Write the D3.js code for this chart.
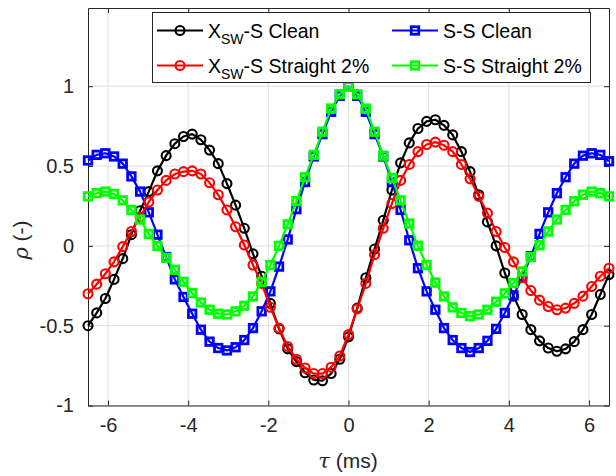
<!DOCTYPE html>
<html><head><meta charset="utf-8">
<script src="https://cdn.jsdelivr.net/npm/d3@7"></script>
<style>
html,body{margin:0;padding:0;background:#fff;}
svg{display:block;font-family:"Liberation Sans",Arial,Helvetica,sans-serif;}
</style></head>
<body><svg id="chart" width="616" height="476"></svg>
<script>
const tau = [-6.5,-6.283,-6.067,-5.85,-5.633,-5.417,-5.2,-4.983,-4.767,-4.55,-4.333,-4.117,-3.9,-3.683,-3.467,-3.25,-3.033,-2.817,-2.6,-2.383,-2.167,-1.95,-1.733,-1.517,-1.3,-1.083,-0.867,-0.65,-0.433,-0.217,0,0.217,0.433,0.65,0.867,1.083,1.3,1.517,1.733,1.95,2.167,2.383,2.6,2.817,3.033,3.25,3.467,3.683,3.9,4.117,4.333,4.55,4.767,4.983,5.2,5.417,5.633,5.85,6.067,6.283,6.5];
const xswClean = [-0.50,-0.42,-0.33,-0.21,-0.08,0.07,0.22,0.34,0.47,0.565,0.64,0.685,0.70,0.665,0.60,0.515,0.39,0.255,0.11,-0.05,-0.19,-0.36,-0.52,-0.645,-0.725,-0.795,-0.84,-0.845,-0.80,-0.71,-0.57,-0.39,-0.20,-0.02,0.16,0.35,0.52,0.645,0.735,0.78,0.79,0.755,0.695,0.59,0.465,0.32,0.15,0.0,-0.17,-0.315,-0.43,-0.525,-0.595,-0.64,-0.66,-0.645,-0.60,-0.525,-0.43,-0.305,-0.18];
const ssClean = [0.535,0.57,0.58,0.56,0.515,0.435,0.34,0.21,0.07,-0.07,-0.21,-0.32,-0.425,-0.525,-0.60,-0.64,-0.655,-0.635,-0.59,-0.515,-0.41,-0.285,-0.13,0.04,0.23,0.40,0.56,0.70,0.84,0.94,1.0,0.94,0.84,0.70,0.56,0.40,0.225,0.035,-0.14,-0.285,-0.40,-0.515,-0.59,-0.64,-0.665,-0.64,-0.595,-0.52,-0.42,-0.31,-0.20,-0.065,0.075,0.21,0.33,0.43,0.515,0.565,0.58,0.57,0.53];
const xswStraight = [-0.30,-0.24,-0.175,-0.10,-0.005,0.09,0.18,0.275,0.35,0.41,0.45,0.465,0.47,0.45,0.395,0.32,0.225,0.12,0.005,-0.12,-0.235,-0.385,-0.515,-0.63,-0.71,-0.765,-0.80,-0.80,-0.76,-0.69,-0.555,-0.395,-0.235,-0.055,0.11,0.265,0.41,0.51,0.59,0.635,0.65,0.63,0.59,0.51,0.42,0.31,0.205,0.09,-0.01,-0.10,-0.20,-0.28,-0.34,-0.38,-0.40,-0.39,-0.36,-0.315,-0.255,-0.19,-0.14];
const ssStraight = [0.31,0.33,0.34,0.325,0.285,0.225,0.165,0.075,0.0,-0.075,-0.15,-0.225,-0.296,-0.355,-0.40,-0.425,-0.43,-0.41,-0.375,-0.317,-0.225,-0.12,0.0,0.135,0.28,0.43,0.57,0.715,0.86,0.95,1.0,0.95,0.86,0.715,0.565,0.425,0.285,0.14,0.0,-0.12,-0.23,-0.317,-0.385,-0.42,-0.44,-0.43,-0.40,-0.35,-0.298,-0.233,-0.16,-0.07,0.005,0.09,0.165,0.225,0.28,0.32,0.34,0.33,0.31];
const xTicks = [-6,-4,-2,0,2,4,6];
const yTicks = [-1,-0.5,0,0.5,1];
const seriesNames = ["X|SW|-S Clean","S-S Clean","X|SW|-S Straight 2%","S-S Straight 2%"];
const seriesColors = ["#000000","#0000ff","#ff0000","#00ff00"];
const seriesMarkers = ["circle","square","circle","square"];
const seriesValues = [xswClean, ssClean, xswStraight, ssStraight];

const svg = d3.select("#chart");
const L = 88, R = 609, T = 8, B = 405.5;
const x = d3.scaleLinear().domain([-6.5, 6.5]).range([L, R]);
const y = d3.scaleLinear().domain([-1, 1.49]).range([B, T]);
const axisCol = "#262626";

// grid
const g = svg.append("g");
g.selectAll("line.vg").data(xTicks).join("line")
  .attr("x1", d=>x(d)).attr("x2", d=>x(d)).attr("y1", T).attr("y2", B)
  .attr("stroke", "#dfdfdf").attr("stroke-width", 1);
g.selectAll("line.hg").data(yTicks).join("line")
  .attr("y1", d=>y(d)).attr("y2", d=>y(d)).attr("x1", L).attr("x2", R)
  .attr("stroke", "#dfdfdf").attr("stroke-width", 1);

// axes
const fs = 20;
const xAxisB = d3.axisBottom(x).tickValues(xTicks).tickSizeInner(-5).tickSizeOuter(0).tickPadding(12).tickFormat(d=>String(d));
const xAxisT = d3.axisTop(x).tickValues(xTicks).tickSizeInner(-5).tickSizeOuter(0).tickFormat("");
const yAxisL = d3.axisLeft(y).tickValues(yTicks).tickSizeInner(-5).tickSizeOuter(0).tickPadding(14).tickFormat(d=>String(d));
const yAxisR = d3.axisRight(y).tickValues(yTicks).tickSizeInner(-5).tickSizeOuter(0).tickFormat("");
function style(sel){
  sel.selectAll("path").attr("stroke", axisCol).attr("stroke-width", 1);
  sel.selectAll("line").attr("stroke", axisCol);
  sel.selectAll("text").attr("fill", axisCol).style("font-size", fs+"px").style("font-family", '"Liberation Sans",Arial,sans-serif');
}
svg.append("g").attr("transform", `translate(0,${B})`).call(xAxisB).call(style);
svg.append("g").attr("transform", `translate(0,${T})`).call(xAxisT).call(style);
svg.append("g").attr("transform", `translate(${L},0)`).call(yAxisL).call(style);
svg.append("g").attr("transform", `translate(${R},0)`).call(yAxisR).call(style);
svg.selectAll(".domain").attr("stroke", axisCol);

// series
const line = d3.line().x((d,i)=>x(tau[i])).y(d=>y(d));
seriesValues.forEach((vals, si) => {
  const col = seriesColors[si];
  const sg = svg.append("g");
  sg.append("path").datum(vals).attr("d", line).attr("fill","none")
    .attr("stroke", col).attr("stroke-width", 2.2).attr("stroke-linejoin","round");
  if (seriesMarkers[si] === "circle") {
    sg.selectAll("circle").data(vals).join("circle")
      .attr("cx", (d,i)=>x(tau[i])).attr("cy", d=>y(d)).attr("r", 4.5)
      .attr("fill","none").attr("stroke", col).attr("stroke-width", 2.1);
  } else {
    const s = 7.5;
    sg.selectAll("rect").data(vals).join("rect")
      .attr("x", (d,i)=>x(tau[i]) - s/2).attr("y", d=>y(d) - s/2)
      .attr("width", s).attr("height", s)
      .attr("fill","none").attr("stroke", col).attr("stroke-width", 2.8);
  }
});

// axis labels
svg.append("text").attr("x", 348).attr("y", 468).attr("text-anchor","middle")
  .attr("fill", axisCol).style("font-size","21px")
  .html('<tspan font-style="italic" font-family="DejaVu Serif, serif">τ</tspan> (ms)');
svg.append("text").attr("transform","translate(28,240) rotate(-90)").attr("text-anchor","middle")
  .attr("fill", axisCol).style("font-size","21px")
  .html('<tspan font-style="italic" font-family="DejaVu Serif, serif">ρ</tspan> (-)');

// legend
const lg = svg.append("g");
lg.append("rect").attr("x", 152.5).attr("y", 12.5).attr("width", 438).attr("height", 70)
  .attr("fill","#fff").attr("stroke", axisCol).attr("stroke-width", 1);
const colX = [157, 392], rowY = [30.5, 65.5];
seriesNames.forEach((name, i) => {
  const cx = colX[i % 2], cy = rowY[Math.floor(i / 2)];
  const col = seriesColors[i];
  lg.append("line").attr("x1", cx).attr("x2", cx + 46).attr("y1", cy).attr("y2", cy)
    .attr("stroke", col).attr("stroke-width", 2.2);
  if (seriesMarkers[i] === "circle") {
    lg.append("circle").attr("cx", cx + 23).attr("cy", cy).attr("r", 4.5)
      .attr("fill","none").attr("stroke", col).attr("stroke-width", 2.1);
  } else {
    lg.append("rect").attr("x", cx + 23 - 3.75).attr("y", cy - 3.75).attr("width", 7.5).attr("height", 7.5)
      .attr("fill","none").attr("stroke", col).attr("stroke-width", 2.8);
  }
  const t = lg.append("text").attr("x", cx + 51).attr("y", cy + 7).attr("fill", "#000").style("font-size","19.5px");
  const parts = name.split("|");
  if (parts.length === 3) {
    t.append("tspan").text(parts[0]);
    t.append("tspan").attr("dy", 6).style("font-size","14px").text(parts[1]);
    t.append("tspan").attr("dy", -6).text(parts[2]);
  } else {
    t.text(name);
  }
});
</script></body></html>
